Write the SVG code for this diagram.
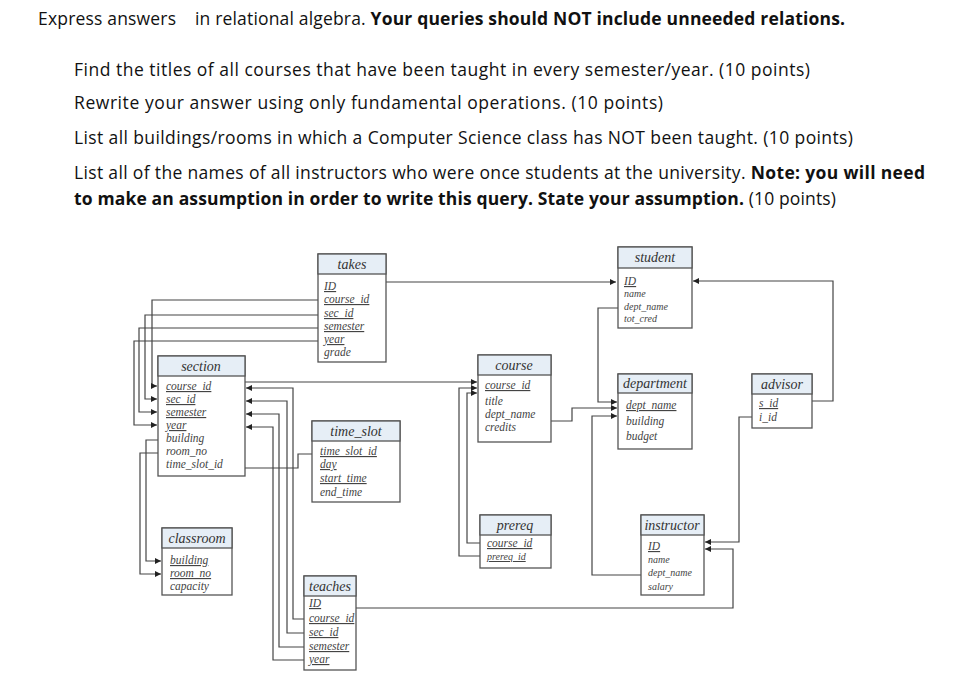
<svg xmlns="http://www.w3.org/2000/svg" width="960" height="681" viewBox="0 0 960 681">
<style>
.q{font-family:"Open Sans","Noto Sans",sans-serif;font-size:17.5px;fill:#111}
.b{font-weight:bold}
.box{fill:#fff;stroke:#555;stroke-width:1.3}
.hd{fill:#e6eef6;stroke:#555;stroke-width:1.3}
.h{font-family:"Liberation Serif",serif;font-style:italic;font-size:14px;fill:#333;text-anchor:middle}
.f{font-family:"Liberation Serif",serif;font-style:italic;font-size:11.5px;fill:#444}
.u{text-decoration:underline}
.c path{fill:none;stroke:#444;stroke-width:1.2}
</style>
<defs><marker id="a" markerWidth="6" markerHeight="6" refX="6" refY="3" orient="auto" markerUnits="userSpaceOnUse"><path d="M0,0L6,3L0,6z" fill="#222"/></marker></defs>
<rect width="960" height="681" fill="#fff"/>
<text class="q" x="38" y="25" textLength="138" lengthAdjust="spacing">Express answers</text>
<text class="q" x="195" y="25" textLength="650" lengthAdjust="spacing">in relational algebra.  <tspan class="b">Your queries should NOT include unneeded relations.</tspan></text>
<text class="q" x="74" y="76" textLength="736" lengthAdjust="spacing">Find the titles of all courses that have been taught in every semester/year.  (10 points)</text>
<text class="q" x="74" y="109" textLength="589" lengthAdjust="spacing">Rewrite your answer  using only fundamental operations.  (10 points)</text>
<text class="q" x="74" y="144" textLength="779" lengthAdjust="spacing">List all buildings/rooms in which a Computer Science class has NOT been taught. (10 points)</text>
<text class="q" x="74" y="179" textLength="851" lengthAdjust="spacing">List all of the names of all instructors who were once students at the university. <tspan class="b">Note: you will need</tspan></text>
<text class="q b" x="74" y="205" textLength="762" lengthAdjust="spacing">to make an assumption in order to write this query.  State your assumption.  <tspan style="font-weight:normal">(10 points)</tspan></text>

<g class="c">
<path d="M386,282H616" marker-end="url(#a)"/>
<path d="M318,300H152V386H157" marker-end="url(#a)"/>
<path d="M318,315H145V399H157" marker-end="url(#a)"/>
<path d="M318,328H139V412H157" marker-end="url(#a)"/>
<path d="M318,341H134V425H157" marker-end="url(#a)"/>
<path d="M158,440H146V561H161" marker-end="url(#a)"/>
<path d="M158,453H140V574H161" marker-end="url(#a)"/>
<path d="M245,468H298V454H312"/>
<path d="M245,382H477" marker-end="url(#a)"/>
<path d="M304,619H293V388H246" marker-end="url(#a)"/>
<path d="M304,633H287V401H246" marker-end="url(#a)"/>
<path d="M304,647H279V414H246" marker-end="url(#a)"/>
<path d="M304,660H273V427H246" marker-end="url(#a)"/>
<path d="M480,543H467V393H477" marker-end="url(#a)"/>
<path d="M480,556H459V388H477" marker-end="url(#a)"/>
<path d="M551,421H572V408H617" marker-end="url(#a)"/>
<path d="M618,308H598V402H617" marker-end="url(#a)"/>
<path d="M641,575H592V416H617" marker-end="url(#a)"/>
<path d="M812,401H833V281H693" marker-end="url(#a)"/>
<path d="M752,417H739V542H705" marker-end="url(#a)"/>
<path d="M356,608H733V549H705" marker-end="url(#a)"/>
</g>

<g id="takes"><rect class="box" x="318" y="254" width="68" height="108"/><rect class="hd" x="318" y="254" width="68" height="20"/><text class="h" x="352" y="269">takes</text>
<text class="f"><tspan class="u" x="324" y="290">ID</tspan><tspan class="u" x="324" y="303">course_id</tspan><tspan class="u" x="324" y="317">sec_id</tspan><tspan class="u" x="324" y="330">semester</tspan><tspan class="u" x="324" y="343">year</tspan><tspan x="324" y="356">grade</tspan></text></g>

<g id="student"><rect class="box" x="618" y="247" width="74" height="81"/><rect class="hd" x="618" y="247" width="74" height="21"/><text class="h" x="655" y="262">student</text>
<text class="f"><tspan class="u" x="624" y="285">ID</tspan><tspan x="624" y="297" font-size="10">name</tspan><tspan x="624" y="310" font-size="10">dept_name</tspan><tspan x="624" y="322" font-size="10">tot_cred</tspan></text></g>

<g id="section"><rect class="box" x="158" y="356" width="87" height="120"/><rect class="hd" x="158" y="356" width="87" height="20"/><text class="h" x="201" y="371">section</text>
<text class="f"><tspan class="u" x="166" y="390">course_id</tspan><tspan class="u" x="166" y="403">sec_id</tspan><tspan class="u" x="166" y="416">semester</tspan><tspan class="u" x="166" y="429">year</tspan><tspan x="166" y="442">building</tspan><tspan x="166" y="455">room_no</tspan><tspan x="166" y="468">time_slot_id</tspan></text></g>

<g id="course"><rect class="box" x="478" y="355" width="73" height="87"/><rect class="hd" x="478" y="355" width="73" height="20"/><text class="h" x="514" y="370">course</text>
<text class="f"><tspan class="u" x="485" y="389">course_id</tspan><tspan x="485" y="405">title</tspan><tspan x="485" y="418">dept_name</tspan><tspan x="485" y="431">credits</tspan></text></g>

<g id="department"><rect class="box" x="618" y="374" width="74" height="75"/><rect class="hd" x="618" y="374" width="74" height="19"/><text class="h" x="655" y="388">department</text>
<text class="f"><tspan class="u" x="626" y="409">dept_name</tspan><tspan x="626" y="425">building</tspan><tspan x="626" y="440">budget</tspan></text></g>

<g id="advisor"><rect class="box" x="752" y="374" width="60" height="54"/><rect class="hd" x="752" y="374" width="60" height="20"/><text class="h" x="782" y="389">advisor</text>
<text class="f" font-size="10"><tspan class="u" x="759" y="407">s_id</tspan><tspan x="759" y="421">i_id</tspan></text></g>

<g id="time_slot"><rect class="box" x="312" y="421" width="88" height="81"/><rect class="hd" x="312" y="421" width="88" height="20"/><text class="h" x="356" y="436">time_slot</text>
<text class="f"><tspan class="u" x="320" y="455">time_slot_id</tspan><tspan class="u" x="320" y="468">day</tspan><tspan class="u" x="320" y="482">start_time</tspan><tspan x="320" y="496">end_time</tspan></text></g>

<g id="prereq"><rect class="box" x="480" y="515" width="71" height="53"/><rect class="hd" x="480" y="515" width="71" height="20"/><text class="h" x="515" y="530">prereq</text>
<text class="f"><tspan class="u" x="487" y="547">course_id</tspan><tspan class="u" x="487" y="560" font-size="10">prereq_id</tspan></text></g>

<g id="instructor"><rect class="box" x="641" y="515" width="63" height="80"/><rect class="hd" x="641" y="515" width="63" height="20"/><text class="h" x="672" y="530">instructor</text>
<text class="f"><tspan class="u" x="648" y="550">ID</tspan><tspan x="648" y="563" font-size="10">name</tspan><tspan x="648" y="576" font-size="10">dept_name</tspan><tspan x="648" y="590" font-size="10">salary</tspan></text></g>

<g id="classroom"><rect class="box" x="162" y="528" width="70" height="67"/><rect class="hd" x="162" y="528" width="70" height="20"/><text class="h" x="197" y="543">classroom</text>
<text class="f"><tspan class="u" x="170" y="564">building</tspan><tspan class="u" x="170" y="577">room_no</tspan><tspan x="170" y="590">capacity</tspan></text></g>

<g id="teaches"><rect class="box" x="304" y="576" width="52" height="94"/><rect class="hd" x="304" y="576" width="52" height="20"/><text class="h" x="330" y="591">teaches</text>
<text class="f" font-size="10.5"><tspan class="u" x="309" y="607">ID</tspan><tspan class="u" x="309" y="622">course_id</tspan><tspan class="u" x="309" y="636">sec_id</tspan><tspan class="u" x="309" y="650">semester</tspan><tspan class="u" x="309" y="663">year</tspan></text></g>
</svg>
